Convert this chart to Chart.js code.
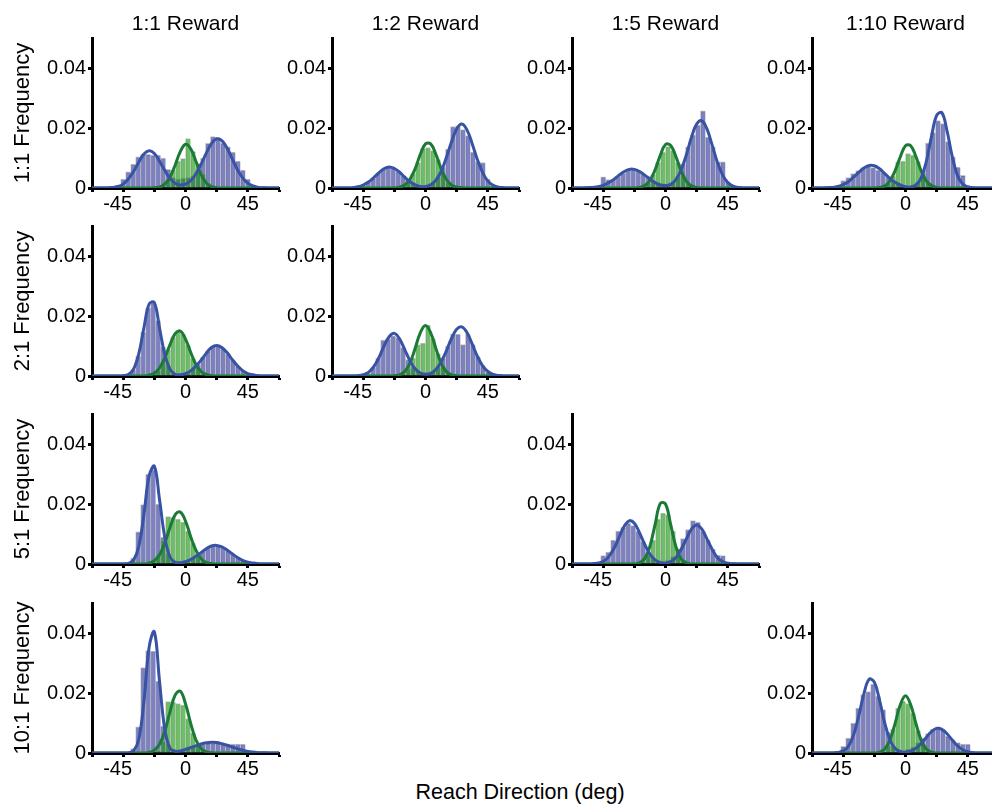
<!DOCTYPE html>
<html>
<head>
<meta charset="utf-8">
<title>Reach direction histograms</title>
<script src="https://cdn.jsdelivr.net/npm/chart.js@4.4.1/dist/chart.umd.min.js"></script>
<style>
  html, body { margin: 0; padding: 0; background: #fff; }
  #page {
    position: relative; width: 992px; height: 806px; overflow: hidden;
    font-family: "Liberation Sans", Arial, Helvetica, sans-serif; color: #000;
  }
  .panel { position: absolute; }
  .col-title {
    position: absolute; top: 12px; width: 240px; margin-left: -120px;
    text-align: center; font-size: 21px; line-height: 21px; white-space: nowrap;
  }
  .row-title {
    position: absolute; left: 22px; font-size: 22px; line-height: 22px; white-space: nowrap;
    transform: translate(-50%, -50%) rotate(-90deg);
  }
  .x-title {
    position: absolute; left: 520px; top: 782px; transform: translateX(-50%);
    font-size: 21.5px; line-height: 21.5px; white-space: nowrap;
  }
</style>
</head>
<body>
<div id="page"></div>
<script>
// ==================== DATOS ====================
// Eje X en grados, eje Y en frecuencia

const colTitles = ['1:1 Reward', '1:2 Reward', '1:5 Reward', '1:10 Reward'];
const rowTitles = ['1:1 Frequency', '2:1 Frequency', '5:1 Frequency', '10:1 Frequency'];
const xAxisTitle = 'Reach Direction (deg)';

const xTickValues = [-67.5, -45, -22.5, 0, 22.5, 45, 67.5];
const xTickLabels = ['', '-45', '', '0', '', '45', ''];
const yTickValues = [0, 0.02, 0.04];
const yTickLabels = ['0', '0.02', '0.04'];

// centros de los bins del histograma (ancho 3.6 deg)
const binCenters = [
  -55.8, -52.2, -48.6, -45, -41.4, -37.8, -34.2, -30.6, -27, -23.4,
  -19.8, -16.2, -12.6, -9, -5.4, -1.8, 1.8, 5.4, 9, 12.6,
  16.2, 19.8, 23.4, 27, 30.6, 34.2, 37.8, 41.4, 45, 48.6,
  52.2, 55.8
];

// abscisas de las curvas de ajuste
const curveX = [
  -67.5, -63.75, -60, -56.25, -52.5, -48.75, -45, -41.25, -37.5, -33.75,
  -30, -26.25, -22.5, -18.75, -15, -11.25, -7.5, -3.75, 0, 3.75,
  7.5, 11.25, 15, 18.75, 22.5, 26.25, 30, 33.75, 37.5, 41.25,
  45, 48.75, 52.5, 56.25, 60, 63.75, 67.5
];

// ---- fila 1:1 ----
const r1c1BlueBars = [
  0, .0002, .0008, .0030, .0054, .0080, .0104, .0113, .0112, .0110,
  .0110, .0100, .0062, .0035, .0030, .0032, .0035, .0040, .0062, .0100,
  .0149, .0171, .0168, .0150, .0137, .0120, .0090, .0060, .0030, .0010,
  .0002, 0
];
const r1c1GreenBars = [
  0, 0, 0, 0, 0, 0, 0, 0, 0, 0,
  0, .0010, .0030, .0060, .0090, .0098, .0165, .0122, .0082, .0048,
  .0018, .0005, 0, 0, 0, 0, 0, 0, 0, 0,
  0, 0
];
const r1c1BlueFit = [
  0, 0, 0, 0, .0002, .0005, .0013, .0030, .0055, .0086,
  .0113, .0124, .0115, .0089, .0059, .0032, .0016, .0010, .0013, .0024,
  .0047, .0079, .0116, .0148, .0164, .0158, .0133, .0097, .0061, .0034,
  .0016, .0007, .0002, .0001, 0, 0, 0
];
const r1c1GreenFit = [
  0, 0, 0, 0, 0, 0, 0, 0, 0, 0,
  0, 0, .0001, .0003, .0013, .0036, .0076, .0121, .0146, .0131,
  .0089, .0045, .0017, .0005, .0001, 0, 0, 0, 0, 0,
  0, 0, 0, 0, 0, 0, 0
];

const r1c2BlueBars = [
  0, .0002, .0004, .0010, .0019, .0032, .0048, .0062, .0068, .0067,
  .0057, .0041, .0026, .0014, .0008, .0005, .0006, .0016, .0036, .0070,
  .0130, .0205, .0207, .0195, .0175, .0120, .0088, .0085, .0030, .0008,
  .0002, 0
];
const r1c2GreenBars = [
  0, 0, 0, 0, 0, 0, 0, 0, 0, 0,
  .0002, .0007, .0020, .0048, .0085, .0132, .0135, .0125, .0095, .0050,
  .0020, .0007, 0, 0, 0, 0, 0, 0, 0, 0,
  0, 0
];
const r1c2BlueFit = [
  0, 0, 0, 0, .0001, .0004, .0010, .0020, .0034, .0050,
  .0064, .0070, .0065, .0053, .0036, .0021, .0011, .0005, .0005, .0011,
  .0026, .0055, .0101, .0153, .0197, .0213, .0193, .0147, .0094, .0051,
  .0023, .0009, .0003, .0001, 0, 0, 0
];
const r1c2GreenFit = [
  0, 0, 0, 0, 0, 0, 0, 0, 0, 0,
  0, 0, 0, .0003, .0010, .0029, .0064, .0112, .0147, .0147,
  .0112, .0065, .0029, .0010, .0003, .0001, 0, 0, 0, 0,
  0, 0, 0, 0, 0, 0, 0
];

const r1c3BlueBars = [
  .0001, .0002, .0005, .0037, .0028, .0030, .0040, .0050, .0062, .0064,
  .0058, .0048, .0035, .0025, .0018, .0015, .0010, .0018, .0040, .0080,
  .0137, .0177, .0210, .0257, .0170, .0137, .0087, .0087, .0020, .0005,
  0, 0
];
const r1c3GreenBars = [
  0, 0, 0, 0, 0, 0, 0, 0, 0, 0,
  0, .0005, .0017, .0045, .0085, .0120, .0138, .0125, .0085, .0045,
  .0016, .0005, 0, 0, 0, 0, 0, 0, 0, 0,
  0, 0
];
const r1c3BlueFit = [
  0, 0, 0, .0001, .0002, .0004, .0009, .0017, .0028, .0042,
  .0054, .0062, .0062, .0055, .0043, .0030, .0018, .0010, .0008, .0012,
  .0028, .0060, .0110, .0169, .0213, .0224, .0196, .0142, .0085, .0043,
  .0018, .0006, .0002, 0, 0, 0, 0
];
const r1c3GreenFit = [
  0, 0, 0, 0, 0, 0, 0, 0, 0, 0,
  0, 0, 0, .0002, .0008, .0025, .0061, .0109, .0145, .0142,
  .0105, .0057, .0023, .0007, .0002, 0, 0, 0, 0, 0,
  0, 0, 0, 0, 0, 0, 0
];

const r1c4BlueBars = [
  0, .0002, .0008, .0025, .0035, .0048, .0058, .0068, .0073, .0068,
  .0060, .0052, .0036, .0024, .0014, .0008, .0004, .0008, .0020, .0060,
  .0150, .0185, .0225, .0215, .0155, .0104, .0070, .0042, .0010, 0,
  0, 0
];
const r1c4GreenBars = [
  0, 0, 0, 0, 0, 0, 0, 0, 0, 0,
  0, .0004, .0015, .0040, .0087, .0090, .0115, .0110, .0088, .0048,
  .0018, .0005, 0, 0, 0, 0, 0, 0, 0, 0,
  0, 0
];
const r1c4BlueFit = [
  0, 0, 0, .0001, .0002, .0005, .0011, .0021, .0036, .0052,
  .0067, .0075, .0074, .0064, .0048, .0032, .0019, .0010, .0004, .0003,
  .0010, .0033, .0088, .0171, .0242, .0251, .0190, .0105, .0042, .0013,
  .0003, .0001, 0, 0, 0, 0, 0
];
const r1c4GreenFit = [
  0, 0, 0, 0, 0, 0, 0, 0, 0, 0,
  0, 0, 0, .0002, .0007, .0024, .0058, .0104, .0141, .0141,
  .0105, .0058, .0024, .0008, .0002, 0, 0, 0, 0, 0,
  0, 0, 0, 0, 0, 0, 0
];

// ---- fila 2:1 ----
const r2c1BlueBars = [
  0, 0, 0, .0001, .0005, .0021, .0066, .0146, .0227, .0245,
  .0185, .0097, .0036, .0010, .0004, .0005, .0012, .0023, .0040, .0062,
  .0083, .0098, .0102, .0093, .0074, .0052, .0032, .0017, .0008, .0004,
  .0001, 0
];
const r2c1GreenBars = [
  0, 0, 0, 0, 0, 0, 0, 0, .0002, .0007,
  .0020, .0048, .0088, .0129, .0150, .0139, .0103, .0060, .0028, .0010,
  .0003, 0, 0, 0, 0, 0, 0, 0, 0, 0,
  0, 0
];
const r2c1BlueFit = [
  0, 0, 0, 0, 0, 0, .0001, .0005, .0023, .0074,
  .0161, .0240, .0245, .0160, .0073, .0023, .0006, .0004, .0008, .0017,
  .0033, .0053, .0076, .0095, .0102, .0095, .0078, .0055, .0034, .0018,
  .0008, .0004, .0001, 0, 0, 0, 0
];
const r2c1GreenFit = [
  0, 0, 0, 0, 0, 0, 0, 0, 0, 0,
  0, .0003, .0009, .0027, .0060, .0104, .0141, .0150, .0123, .0079,
  .0039, .0015, .0005, .0001, 0, 0, 0, 0, 0, 0,
  0, 0, 0, 0, 0, 0, 0
];

const r2c2BlueBars = [
  0, 0, .0001, .0004, .0010, .0028, .0060, .0120, .0124, .0134,
  .0128, .0095, .0055, .0030, .0015, .0010, .0010, .0015, .0030, .0060,
  .0100, .0140, .0140, .0105, .0140, .0105, .0065, .0035, .0012, .0004,
  0, 0
];
const r2c2GreenBars = [
  0, 0, 0, 0, 0, 0, 0, 0, 0, 0,
  0, .0008, .0025, .0060, .0105, .0110, .0170, .0125, .0075, .0035,
  .0012, 0, 0, 0, 0, 0, 0, 0, 0, 0,
  0, 0
];
const r2c2BlueFit = [
  0, 0, 0, 0, 0, .0001, .0004, .0012, .0030, .0060,
  .0099, .0131, .0142, .0124, .0088, .0051, .0024, .0010, .0006, .0009,
  .0022, .0047, .0083, .0125, .0156, .0164, .0144, .0106, .0065, .0034,
  .0015, .0005, .0002, 0, 0, 0, 0
];
const r2c2GreenFit = [
  0, 0, 0, 0, 0, 0, 0, 0, 0, 0,
  0, 0, .0001, .0004, .0015, .0043, .0092, .0144, .0168, .0144,
  .0092, .0043, .0015, .0004, .0001, 0, 0, 0, 0, 0,
  0, 0, 0, 0, 0, 0, 0
];

// ---- fila 5:1 ----
const r3c1BlueBars = [
  0, 0, 0, 0, .0002, .0020, .0107, .0198, .0300, .0315,
  .0200, .0090, .0035, .0015, .0010, .0010, .0012, .0020, .0031, .0043,
  .0054, .0061, .0061, .0055, .0045, .0032, .0021, .0012, .0006, .0003,
  .0001, 0
];
const r3c1GreenBars = [
  0, 0, 0, 0, 0, 0, 0, 0, 0, .0008,
  .0030, .0080, .0158, .0155, .0150, .0140, .0110, .0070, .0035, .0012,
  .0004, 0, 0, 0, 0, 0, 0, 0, 0, 0,
  0, 0
];
const r3c1BlueFit = [
  0, 0, 0, 0, 0, 0, 0, .0002, .0013, .0058,
  .0166, .0294, .0326, .0215, .0090, .0024, .0005, .0004, .0008, .0015,
  .0026, .0038, .0051, .0060, .0062, .0057, .0047, .0034, .0022, .0012,
  .0006, .0003, .0001, 0, 0, 0, 0
];
const r3c1GreenFit = [
  0, 0, 0, 0, 0, 0, 0, 0, 0, 0,
  0, .0003, .0011, .0031, .0069, .0121, .0164, .0173, .0143, .0091,
  .0046, .0018, .0005, .0001, 0, 0, 0, 0, 0, 0,
  0, 0, 0, 0, 0, 0, 0
];

const r3c3BlueBars = [
  0, 0, .0008, .0028, .0040, .0080, .0110, .0122, .0136, .0128,
  .0110, .0075, .0040, .0020, .0010, .0008, .0012, .0025, .0050, .0085,
  .0115, .0145, .0140, .0110, .0080, .0050, .0030, .0028, .0008, 0,
  0, 0
];
const r3c3GreenBars = [
  0, 0, 0, 0, 0, 0, 0, 0, 0, 0,
  0, .0008, .0030, .0080, .0150, .0170, .0165, .0110, .0050, .0015,
  .0004, 0, 0, 0, 0, 0, 0, 0, 0, 0,
  0, 0
];
const r3c3BlueFit = [
  0, 0, 0, 0, .0001, .0003, .0008, .0023, .0049, .0086,
  .0124, .0144, .0136, .0104, .0065, .0033, .0014, .0005, .0003, .0008,
  .0021, .0048, .0083, .0116, .0130, .0116, .0083, .0048, .0021, .0008,
  .0002, .0001, 0, 0, 0, 0, 0
];
const r3c3GreenFit = [
  0, 0, 0, 0, 0, 0, 0, 0, 0, 0,
  0, 0, 0, .0004, .0018, .0059, .0132, .0202, .0200, .0131,
  .0058, .0017, .0004, 0, 0, 0, 0, 0, 0, 0,
  0, 0, 0, 0, 0, 0, 0
];

// ---- fila 10:1 ----
const r4c1BlueBars = [
  0, 0, 0, 0, 0, .0015, .0087, .0285, .0341, .0340,
  .0240, .0090, .0030, .0012, .0010, .0012, .0015, .0020, .0025, .0030,
  .0032, .0033, .0033, .0030, .0030, .0030, .0030, .0030, .0010, .0004,
  0, 0
];
const r4c1GreenBars = [
  0, 0, 0, 0, 0, 0, 0, 0, 0, 0,
  .0010, .0040, .0171, .0170, .0165, .0160, .0115, .0067, .0030, .0010,
  0, 0, 0, 0, 0, 0, 0, 0, 0, 0,
  0, 0
];
const r4c1BlueFit = [
  0, 0, 0, 0, 0, 0, 0, .0001, .0007, .0045,
  .0172, .0353, .0404, .0239, .0080, .0016, .0006, .0007, .0012, .0018,
  .0024, .0030, .0034, .0036, .0035, .0031, .0026, .0020, .0014, .0009,
  .0005, .0003, .0001, .0001, 0, 0, 0
];
const r4c1GreenFit = [
  0, 0, 0, 0, 0, 0, 0, 0, 0, 0,
  0, .0002, .0009, .0029, .0072, .0136, .0193, .0206, .0164, .0099,
  .0044, .0015, .0004, .0001, 0, 0, 0, 0, 0, 0,
  0, 0, 0, 0, 0, 0, 0
];

const r4c4BlueBars = [
  0, 0, .0005, .0022, .0050, .0100, .0150, .0195, .0205, .0230,
  .0190, .0145, .0070, .0025, .0008, .0006, .0012, .0020, .0035, .0050,
  .0065, .0080, .0087, .0078, .0056, .0044, .0035, .0030, .0030, .0005,
  0, 0
];
const r4c4GreenBars = [
  0, 0, 0, 0, 0, 0, 0, 0, 0, 0,
  0, .0005, .0025, .0080, .0150, .0172, .0165, .0133, .0075, .0030,
  .0010, 0, 0, 0, 0, 0, 0, 0, 0, 0,
  0, 0
];
const r4c4BlueFit = [
  0, 0, 0, 0, 0, .0002, .0007, .0022, .0060, .0124,
  .0198, .0246, .0236, .0176, .0100, .0044, .0015, .0005, .0003, .0007,
  .0016, .0031, .0052, .0071, .0082, .0079, .0064, .0043, .0024, .0011,
  .0004, .0001, 0, 0, 0, 0, 0
];
const r4c4GreenFit = [
  0, 0, 0, 0, 0, 0, 0, 0, 0, 0,
  0, 0, 0, .0003, .0013, .0043, .0099, .0161, .0191, .0161,
  .0099, .0043, .0013, .0003, 0, 0, 0, 0, 0, 0,
  0, 0, 0, 0, 0, 0, 0
];

const panels = [
  { row: 0, col: 0, blueBars: r1c1BlueBars, greenBars: r1c1GreenBars, blueFit: r1c1BlueFit, greenFit: r1c1GreenFit },
  { row: 0, col: 1, blueBars: r1c2BlueBars, greenBars: r1c2GreenBars, blueFit: r1c2BlueFit, greenFit: r1c2GreenFit },
  { row: 0, col: 2, blueBars: r1c3BlueBars, greenBars: r1c3GreenBars, blueFit: r1c3BlueFit, greenFit: r1c3GreenFit },
  { row: 0, col: 3, blueBars: r1c4BlueBars, greenBars: r1c4GreenBars, blueFit: r1c4BlueFit, greenFit: r1c4GreenFit },
  { row: 1, col: 0, blueBars: r2c1BlueBars, greenBars: r2c1GreenBars, blueFit: r2c1BlueFit, greenFit: r2c1GreenFit },
  { row: 1, col: 1, blueBars: r2c2BlueBars, greenBars: r2c2GreenBars, blueFit: r2c2BlueFit, greenFit: r2c2GreenFit },
  { row: 2, col: 0, blueBars: r3c1BlueBars, greenBars: r3c1GreenBars, blueFit: r3c1BlueFit, greenFit: r3c1GreenFit },
  { row: 2, col: 2, blueBars: r3c3BlueBars, greenBars: r3c3GreenBars, blueFit: r3c3BlueFit, greenFit: r3c3GreenFit },
  { row: 3, col: 0, blueBars: r4c1BlueBars, greenBars: r4c1GreenBars, blueFit: r4c1BlueFit, greenFit: r4c1GreenFit },
  { row: 3, col: 3, blueBars: r4c4BlueBars, greenBars: r4c4GreenBars, blueFit: r4c4BlueFit, greenFit: r4c4GreenFit }
];

// ==================== LAYOUT ====================
const COL_LEFT = [92, 332, 572, 812];   // x del eje Y de cada columna
const ROW_TOP  = [38, 226, 414, 603];   // y del tope del área de cada fila
const PLOT_W = 187, PLOT_H = 150;
const AXIS_L = 70, AXIS_B = 34, PAD_T = 14, PAD_R = 8;

const FONT = '"Liberation Sans", Arial, Helvetica, sans-serif';
const BLUE_BAR  = 'rgba(70, 75, 165, 0.7)';
const GREEN_BAR = 'rgba(20, 150, 10, 0.62)';
const BAR_EDGE  = 'rgba(150, 150, 150, 0.55)';
const BAR_BORDER = { left: 1, top: 1, right: 0, bottom: 0 };
const BLUE_LINE  = '#3853a4';
const GREEN_LINE = '#1b7a36';

Chart.defaults.font.family = FONT;
Chart.defaults.color = '#000';

const page = document.getElementById('page');

function renderPanel(p) {
  const canvas = document.createElement('canvas');
  const w = AXIS_L + PLOT_W + PAD_R;
  const h = PAD_T + PLOT_H + AXIS_B;
  canvas.width = w;
  canvas.height = h;
  canvas.className = 'panel';
  canvas.style.width = w + 'px';
  canvas.style.height = h + 'px';
  canvas.style.left = (COL_LEFT[p.col] - AXIS_L) + 'px';
  canvas.style.top = (ROW_TOP[p.row] - PAD_T) + 'px';
  page.appendChild(canvas);

  new Chart(canvas, {
    type: 'bar',
    data: {
      datasets: [
        {
          type: 'line',
          data: curveX.map((x, i) => ({ x, y: p.blueFit[i] })),
          borderColor: BLUE_LINE,
          borderWidth: 3,
          pointRadius: 0,
          tension: 0.4,
          fill: false,
          order: 0
        },
        {
          type: 'line',
          data: curveX.map((x, i) => ({ x, y: p.greenFit[i] })),
          borderColor: GREEN_LINE,
          borderWidth: 3,
          pointRadius: 0,
          tension: 0.4,
          fill: false,
          order: 1
        },
        {
          type: 'bar',
          data: binCenters.map((x, i) => ({ x, y: p.greenBars[i] })),
          backgroundColor: GREEN_BAR,
          borderColor: BAR_EDGE,
          borderWidth: BAR_BORDER,
          borderSkipped: false,
          barPercentage: 1,
          categoryPercentage: 1,
          grouped: false,
          order: 2
        },
        {
          type: 'bar',
          data: binCenters.map((x, i) => ({ x, y: p.blueBars[i] })),
          backgroundColor: BLUE_BAR,
          borderColor: BAR_EDGE,
          borderWidth: BAR_BORDER,
          borderSkipped: false,
          barPercentage: 1,
          categoryPercentage: 1,
          grouped: false,
          order: 3
        }
      ]
    },
    options: {
      responsive: false,
      animation: false,
      events: [],
      layout: { padding: { top: PAD_T, right: PAD_R, left: 0, bottom: 0 } },
      plugins: {
        legend: { display: false },
        tooltip: { enabled: false }
      },
      scales: {
        x: {
          type: 'linear',
          min: -67.5,
          max: 67.5,
          offset: false,
          z: 1,
          border: { display: true, color: '#000', width: 3 },
          grid: { display: true, drawOnChartArea: false, drawTicks: true, tickLength: 4, tickWidth: 3, tickColor: '#000', offset: false },
          ticks: {
            autoSkip: false, maxRotation: 0, minRotation: 0, padding: 0,
            color: '#000', font: { size: 20 },
            // el signo menos queda fuera del centrado, como en la figura
            callback: (v, i) => xTickLabels[i].startsWith('-') ? xTickLabels[i] + '  ' : xTickLabels[i]
          },
          afterBuildTicks: s => { s.ticks = xTickValues.map(v => ({ value: v })); },
          afterFit: s => { s.height = AXIS_B; }
        },
        y: {
          min: 0,
          max: 0.05,
          z: 1,
          border: { display: true, color: '#000', width: 3 },
          grid: { display: true, drawOnChartArea: false, drawTicks: true, tickLength: 4, tickWidth: 3, tickColor: '#000' },
          ticks: {
            padding: 2, color: '#000', font: { size: 20 },
            callback: (v, i) => yTickLabels[i]
          },
          afterBuildTicks: s => { s.ticks = yTickValues.map(v => ({ value: v })); },
          afterFit: s => { s.width = AXIS_L; }
        }
      }
    }
  });
}

panels.forEach(renderPanel);

// ==================== TÍTULOS ====================
colTitles.forEach((t, c) => {
  const el = document.createElement('div');
  el.className = 'col-title';
  el.textContent = t;
  el.style.left = (COL_LEFT[c] + PLOT_W / 2) + 'px';
  page.appendChild(el);
});

rowTitles.forEach((t, r) => {
  const el = document.createElement('div');
  el.className = 'row-title';
  el.textContent = t;
  el.style.top = (ROW_TOP[r] + PLOT_H / 2) + 'px';
  page.appendChild(el);
});

const xt = document.createElement('div');
xt.className = 'x-title';
xt.textContent = xAxisTitle;
page.appendChild(xt);
</script>
</body>
</html>
